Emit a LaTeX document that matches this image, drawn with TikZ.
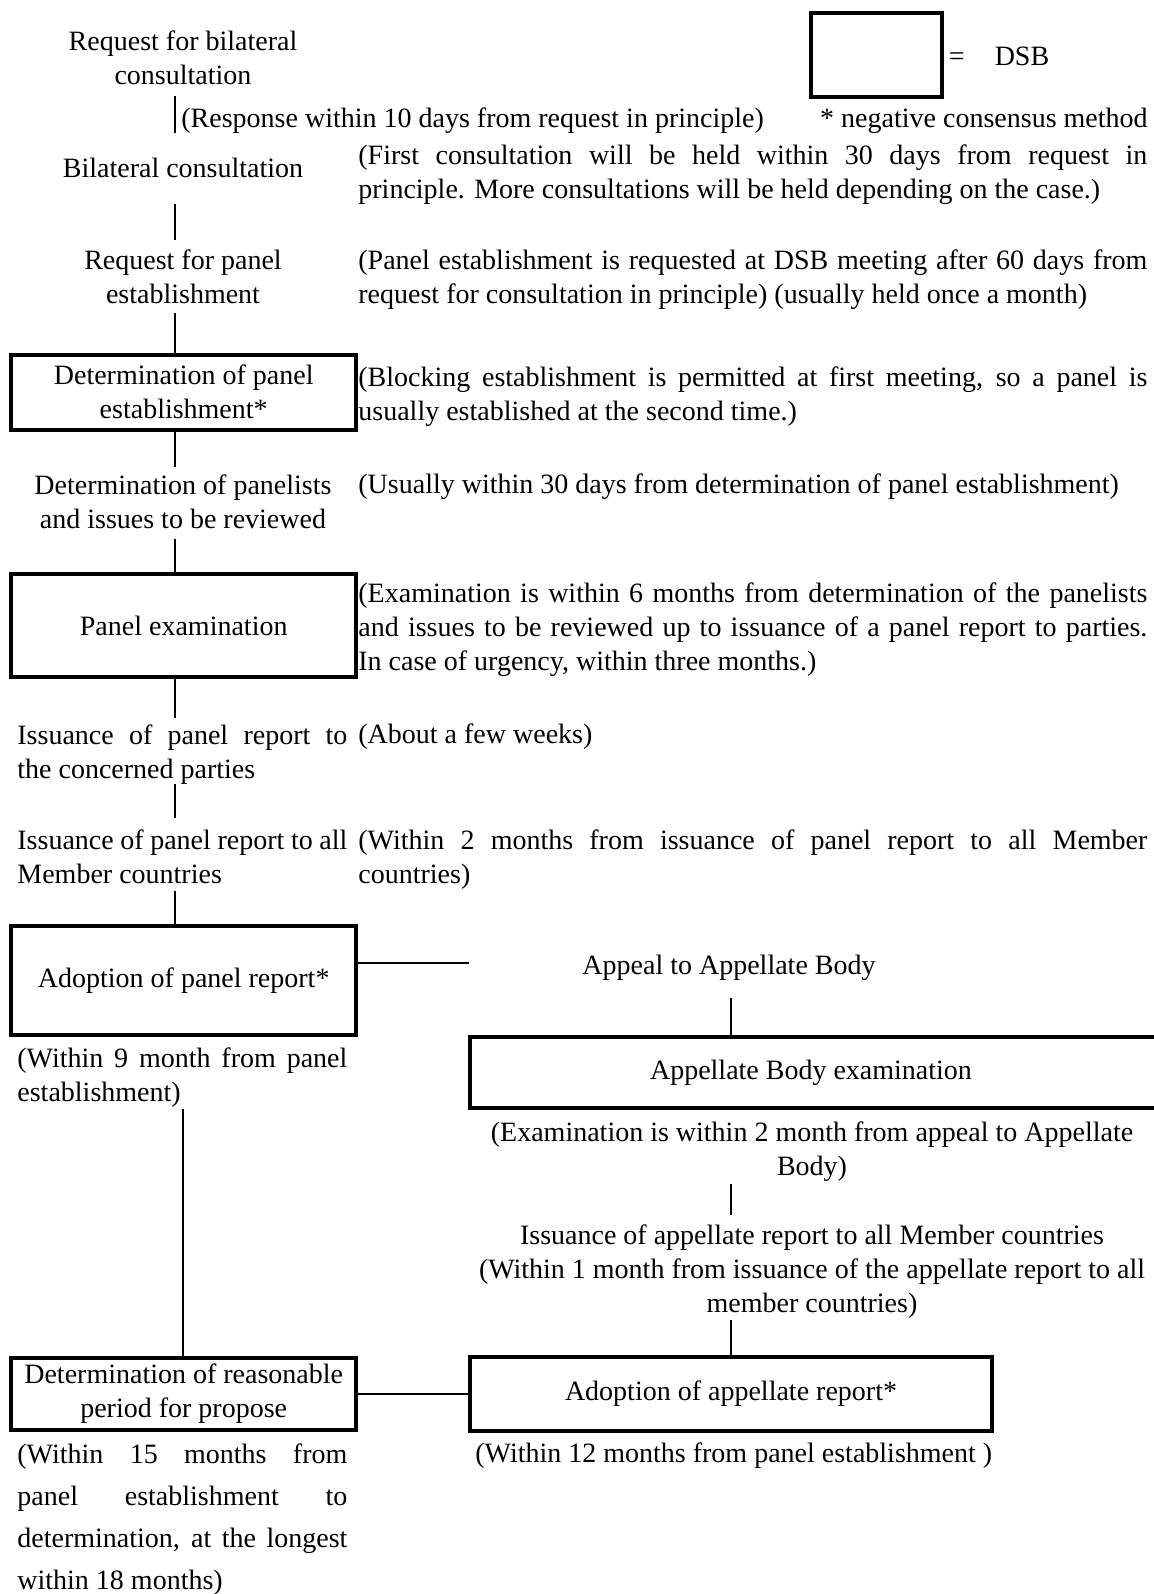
\documentclass[tikz,border=0pt]{standalone}
\usepackage{fontspec}
\setmainfont{Liberation Serif}
\hyphenpenalty=10000
\exhyphenpenalty=10000
\tolerance=10000

\begin{document}
\begin{tikzpicture}[x=0.5pt,y=-0.5pt,
    every node/.style={font=\fontsize{14pt}{17pt}\selectfont, inner sep=0pt, align=center},
    stagebox/.style={draw, line width=2pt, minimum width=172.5pt},
    link/.style={line width=0.9pt},
    remark/.style={text width=394.5pt, align=justify, anchor=north west},
    sidenote/.style={text width=165pt, align=justify, anchor=north west}]

        % Fix the page
        \useasboundingbox (0,0) rectangle (1153,1594);

        % Legend for the DSB
        \node[draw, line width=2pt, minimum width=65.5pt, minimum height=42pt] (dsbkey) at (876.5,55) {};
        \node[anchor=base] (eqsign) at (956.7,66) {=};
        \node[anchor=base] (dsbname) at (1022,66) {DSB};
        \node[anchor=base east] (negcons) at (1148,128) {* negative consensus method};

        % Stages of the panel, left column
        \node[anchor=north] (reqbil) at (183,30) {Request for bilateral\\consultation};
        \node[anchor=base west] (response) at (181,128) {(Response within 10 days from request in principle)};
        \node[anchor=base] (bilat) at (183,178) {Bilateral consultation};
        \node[anchor=north] (reqpanel) at (183,249) {Request for panel\\establishment};
        \node[stagebox, minimum height=37.5pt] (estab) at (183.7,392) {Determination of panel\\establishment*};
        \node[anchor=north] (panelists) at (183,474) {Determination of panelists\\and issues to be reviewed};
        \node[stagebox, minimum height=51.5pt] (exam) at (183.7,625.5) {Panel examination};
        \node[sidenote] (issuepart) at (17,724) {Issuance of panel report to\linebreak the concerned parties};
        \node[sidenote] (issueall) at (17,829) {Issuance of panel report to all\linebreak Member countries};
        \node[stagebox, minimum height=54.5pt] (adopt) at (183.7,980.5) {Adoption of panel report*};
        \node[sidenote] (ninenote) at (17,1047) {(Within 9 month from panel\linebreak establishment)};
        \node[stagebox, minimum height=36pt] (reason) at (183.7,1394) {Determination of reasonable\\period for propose};
        \node[sidenote, font=\fontsize{14pt}{21pt}\selectfont] (fifteennote) at (17,1443) {(Within 15 months from\linebreak panel establishment to\linebreak determination, at the longest\linebreak within 18 months)};

        % Time limits, right of the stages
        \node[remark] (firstnote) at (358,144) {(First consultation will be held within 30 days from request in\linebreak principle. More consultations will be held depending on the case.)};
        \node[remark] (panelnote) at (358,249) {(Panel establishment is requested at DSB meeting after 60 days from\linebreak request for consultation in principle) (usually held once a month)};
        \node[remark] (blocknote) at (358,366) {(Blocking establishment is permitted at first meeting, so a panel is\linebreak usually established at the second time.)};
        \node[anchor=base west] (usualnote) at (358,493) {(Usually within 30 days from determination of panel establishment)};
        \node[remark] (examnote) at (358,582) {(Examination is within 6 months from determination of the panelists\linebreak and issues to be reviewed up to issuance of a panel report to parties.\linebreak In case of urgency, within three months.)};
        \node[anchor=base west] (weeks) at (358,743) {(About a few weeks)};
        \node[remark] (twonote) at (358,829) {(Within 2 months from issuance of panel report to all Member\linebreak countries)};

        % Appeal, right column (box runs past the page edge)
        \node[anchor=base] (appeal) at (729,974) {Appeal to Appellate Body};
        \node[stagebox, minimum width=352.5pt, minimum height=35.5pt] (abexam) at (822.5,1072.5) {\kern-11.5pt Appellate Body examination};
        \node[anchor=north] (twomonth) at (812,1121) {(Examination is within 2 month from appeal to Appellate\\Body)};
        \node[anchor=north] (issueab) at (812,1224) {Issuance of appellate report to all Member countries\\(Within 1 month from issuance of the appellate report to all\\member countries)};
        \node[stagebox, minimum width=261pt, minimum height=37pt] (adoptab) at (731,1394) {Adoption of appellate report*};
        \node[anchor=base west] (twelvenote) at (475,1462) {(Within 12 months from panel establishment )};

        % Draw the connectors
        \coordinate (stem) at (175,0);
        \coordinate (abstem) at (731,0);
        \coordinate (lowstem) at (183,0);
        \coordinate (appealend) at (469,963);
        \draw[link, shorten <=5.5pt, shorten >=12.5pt] (reqbil.south -| stem) -- (bilat.north -| stem);
        \draw[link, shorten <=12.5pt, shorten >=4.5pt] (bilat.south -| stem) -- (reqpanel.north -| stem);
        \draw[link, shorten <=4.5pt] (reqpanel.south -| stem) -- (estab.north -| stem);
        \draw[link, shorten >=3.5pt] (estab.south -| stem) -- (panelists.north -| stem);
        \draw[link, shorten <=5pt] (panelists.south -| stem) -- (exam.north -| stem);
        \draw[link, shorten >=3pt] (exam.south -| stem) -- (issuepart.north -| stem);
        \draw[link, shorten >=5.5pt] (issuepart.south -| stem) -- (issueall.north -| stem);
        \draw[link, shorten <=3.5pt] (issueall.south -| stem) -- (adopt.north -| stem);
        \draw[link] (adopt.east |- appealend) -- (appealend);
        \draw[link, shorten <=9pt] (appeal.south -| abstem) -- (abexam.north -| abstem);
        \draw[link, shorten <=1pt, shorten >=4.5pt] (twomonth.south -| abstem) -- (issueab.north -| abstem);
        \draw[link, shorten <=1pt] (issueab.south -| abstem) -- (adoptab.north -| abstem);
        \draw[link, shorten <=1pt] (ninenote.south -| lowstem) -- (reason.north -| lowstem);
        \draw[link] (reason.east) -- (adoptab.west);
\end{tikzpicture}
\end{document}
